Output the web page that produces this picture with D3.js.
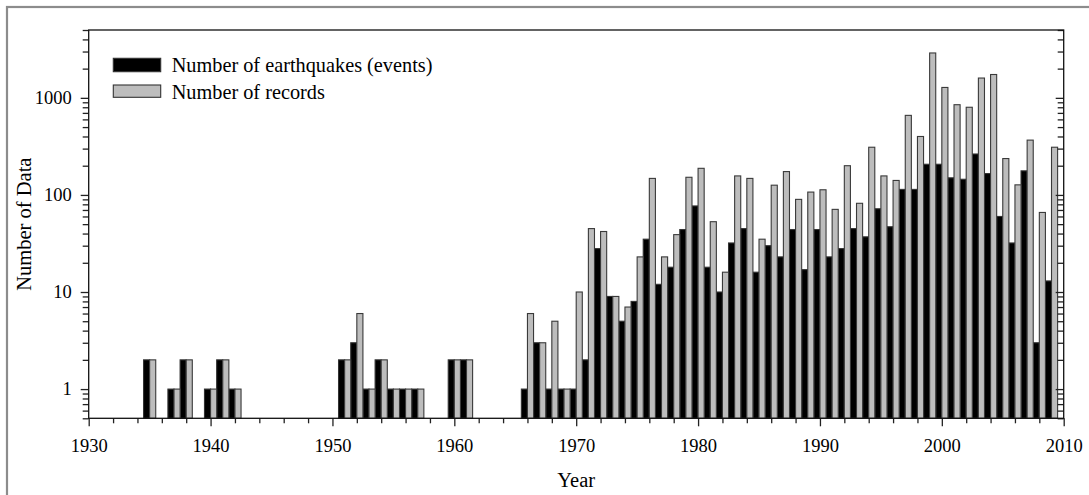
<!DOCTYPE html>
<head>
  <meta charset="utf-8">
  <script src="https://d3js.org/d3.v7.min.js"></script>
  <style>
  body { margin: 0; background: #fff; }
  text { font-family: "Liberation Serif", serif; fill: #000; }
  .tick text { font-size: 18.5px; }
  </style>
</head>

<body>
  <script>
    // data, one value per year (0 = no bar)
    var years = d3.range(1930, 2010);

    var events = [
      0, 0, 0, 0, 0, 2, 0, 1, 2, 0,
      1, 2, 1, 0, 0, 0, 0, 0, 0, 0,
      0, 2, 3, 1, 2, 1, 1, 1, 0, 0,
      2, 2, 0, 0, 0, 0, 1, 3, 1, 1,
      1, 2, 28, 9, 5, 8, 35, 12, 18, 44,
      77, 18, 10, 32, 45, 16, 30, 23, 44, 17,
      44, 23, 28, 45, 37, 72, 47, 114, 114, 207,
      207, 150, 145, 264, 166, 60, 32, 177, 3, 13
    ];

    var records = [
      0, 0, 0, 0, 0, 2, 0, 1, 2, 0,
      1, 2, 1, 0, 0, 0, 0, 0, 0, 0,
      0, 2, 6, 1, 2, 1, 1, 1, 0, 0,
      2, 2, 0, 0, 0, 0, 6, 3, 5, 1,
      10, 45, 42, 9, 7, 23, 148, 23, 39, 152,
      188, 53, 16, 157, 148, 35, 126, 174, 90, 107,
      113, 71, 200, 82, 310, 157, 141, 660, 400, 2900,
      1280, 850, 800, 1600, 1740, 237, 127, 367, 66, 310
    ];

    var xTicks = d3.range(1930, 2011, 2);
    var xLabels = [1930, 1940, 1950, 1960, 1970, 1980, 1990, 2000, 2010];
    var yLabels = [1, 10, 100, 1000];
    var legendNames = ["Number of earthquakes (events)", "Number of records"];

    // setting up svg canvas
    var W = 1089, H = 495;
    var margin = {top: 30, right: 25.3, bottom: 76.7, left: 88.7},
        width = W - margin.left - margin.right,
        height = H - margin.top - margin.bottom;

    var xScale = d3.scaleLinear().domain([1930, 2010]).range([0, width]);
    var yScale = d3.scaleLog().domain([0.5, 5000]).range([height, 0]);

    var rows = years.map(function(y, i) {
      return {year: y, events: events[i], records: records[i]};
    });

    var svg0 = d3.select("body").append("svg")
        .attr("width", W)
        .attr("height", H);

    // outer figure frame
    svg0.append("rect")
      .attr("x", 7).attr("y", 7)
      .attr("width", W + 20).attr("height", H + 20)
      .attr("fill", "none")
      .attr("stroke", "#8c8c8c")
      .attr("stroke-width", 2.2);

    var svg = svg0.append("g")
        .attr("transform", "translate(" + margin.left + "," + margin.top + ")");

    var half = xScale(1930.5) - xScale(1930);

    // black bars: events (left half of the year)
    svg.selectAll(".ev")
      .data(rows.filter(function(d) { return d.events > 0; }))
      .enter().append("rect")
      .attr("class", "ev")
      .attr("x", function(d) { return xScale(d.year - 0.5); })
      .attr("width", half)
      .attr("y", function(d) { return yScale(d.events); })
      .attr("height", function(d) { return height - yScale(d.events); })
      .attr("fill", "#000")
      .attr("stroke", "#333")
      .attr("stroke-width", 1.1);

    // gray bars: records (right half of the year)
    svg.selectAll(".rec")
      .data(rows.filter(function(d) { return d.records > 0; }))
      .enter().append("rect")
      .attr("class", "rec")
      .attr("x", function(d) { return xScale(d.year); })
      .attr("width", half)
      .attr("y", function(d) { return yScale(d.records); })
      .attr("height", function(d) { return height - yScale(d.records); })
      .attr("fill", "#bdbdbd")
      .attr("stroke", "#3a3a3a")
      .attr("stroke-width", 1.1);

    var isMajorY = function(v) { return yLabels.indexOf(v) >= 0; };
    var yTickVals = yScale.ticks();

    // left y axis
    var yAxis = svg.append("g")
      .attr("class", "y axis")
      .call(d3.axisLeft(yScale)
        .tickValues(yTickVals)
        .tickSizeOuter(0)
        .tickPadding(9)
        .tickFormat(function(v) { return isMajorY(v) ? d3.format("d")(v) : ""; }));
    yAxis.select(".domain").remove();
    yAxis.selectAll(".tick line")
      .attr("x2", function(v) { return isMajorY(v) ? -8 : -6; })
      .attr("stroke", "#222").attr("stroke-width", 1.3);
    yAxis.selectAll(".tick text").attr("fill", "#000").attr("x", -17);

    // right y axis, ticks pointing in
    var yAxisR = svg.append("g")
      .attr("transform", "translate(" + width + ",0)")
      .call(d3.axisLeft(yScale).tickValues(yTickVals).tickSizeOuter(0).tickFormat(""));
    yAxisR.select(".domain").remove();
    yAxisR.selectAll(".tick line")
      .attr("x2", function(v) { return isMajorY(v) ? -8 : -6; })
      .attr("stroke", "#222").attr("stroke-width", 1.3);

    // x axis
    var xAxis = svg.append("g")
      .attr("class", "x axis")
      .attr("transform", "translate(0," + height + ")")
      .call(d3.axisBottom(xScale)
        .tickValues(xTicks)
        .tickSizeOuter(0)
        .tickPadding(15)
        .tickFormat(function(v) { return xLabels.indexOf(v) >= 0 ? v : ""; }));
    xAxis.select(".domain").remove();
    xAxis.selectAll(".tick line")
      .attr("y2", function(v) { return xLabels.indexOf(v) >= 0 ? 8 : 5; })
      .attr("stroke", "#222").attr("stroke-width", 1.3);
    xAxis.selectAll(".tick text").attr("fill", "#000");

    // plot frame
    svg.append("rect")
      .attr("width", width).attr("height", height)
      .attr("fill", "none")
      .attr("stroke", "#111")
      .attr("stroke-width", 1.3);

    // axis titles
    svg.append("text")
      .attr("x", width / 2)
      .attr("y", height + 69)
      .attr("text-anchor", "middle")
      .style("font-size", "20.5px")
      .text("Year");

    svg.append("text")
      .attr("transform", "rotate(-90)")
      .attr("x", -height / 2)
      .attr("y", -58)
      .attr("text-anchor", "middle")
      .style("font-size", "20.5px")
      .text("Number of Data");

    // legend
    var legend = svg.selectAll(".legend")
      .data(legendNames)
      .enter().append("g")
      .attr("class", "legend")
      .attr("transform", function(d, i) { return "translate(24.6," + (28.3 + i * 26.7) + ")"; });

    legend.append("rect")
      .attr("width", 47.4)
      .attr("height", function(d, i) { return i === 0 ? 13.4 : 12.3; })
      .attr("fill", function(d, i) { return i === 0 ? "#000" : "#bdbdbd"; })
      .attr("stroke", "#333")
      .attr("stroke-width", 1.1);

    legend.append("text")
      .attr("x", 58.4)
      .attr("y", 13.6)
      .style("font-size", "20.3px")
      .text(function(d) { return d; });

  </script>
</body>
